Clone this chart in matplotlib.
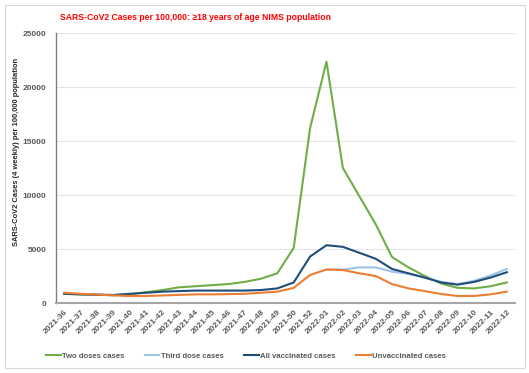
import numpy as np
import matplotlib
matplotlib.use("Agg")
import matplotlib.pyplot as plt
from matplotlib.patches import Rectangle

weeks = ["2021-36", "2021-37", "2021-38", "2021-39", "2021-40", "2021-41", "2021-42",
         "2021-43", "2021-44", "2021-45", "2021-46", "2021-47", "2021-48", "2021-49",
         "2021-50", "2021-52", "2022-01", "2022-02", "2022-03", "2022-04", "2022-05",
         "2022-06", "2022-07", "2022-08", "2022-09", "2022-10", "2022-11", "2022-12"]

two_doses = [850, 800, 760, 730, 800, 1000, 1200, 1450, 1550, 1650, 1750, 1950, 2250, 2750,
             5100, 16200, 22350, 12500, 9900, 7300, 4250, 3300, 2500, 1800, 1400, 1350, 1550, 1900]
third_dose = [np.nan] * 16 + [3100, 3100, 3300, 3300, 2900, 2700, 2350, 1950, 1750, 2050, 2550, 3150]
all_vacc = [850, 800, 770, 740, 850, 950, 1050, 1100, 1150, 1150, 1150, 1150, 1200, 1350,
            1900, 4300, 5350, 5200, 4650, 4100, 3150, 2750, 2350, 1900, 1700, 1950, 2350, 2850]
unvacc = [950, 850, 780, 700, 650, 650, 700, 750, 800, 800, 820, 850, 950, 1050,
          1400, 2600, 3100, 3050, 2750, 2500, 1750, 1350, 1100, 830, 650, 650, 800, 1050]

series_names = ["Two doses cases", "Third dose cases", "All vaccinated cases", "Unvaccinated cases"]
colors = ["#70AD47", "#9DC3E6", "#1F4E79", "#ED7D31"]

plt.rcParams['font.family'] = ['Liberation Sans', 'DejaVu Sans']

fig = plt.figure(figsize=(5.29, 3.73), dpi=100)
fig.patch.set_facecolor("white")
fig.patches.append(Rectangle((5/529, 5/373), 520/529, 363/373, transform=fig.transFigure,
                             fill=False, edgecolor="#D9D9D9", linewidth=0.8))

ax = fig.add_axes([56/529, 1 - 303/373, (515 - 56)/529, (303 - 33)/373])
x = np.arange(len(weeks))
for vals, name, c in zip([two_doses, third_dose, all_vacc, unvacc], series_names, colors):
    ax.plot(x, vals, color=c, linewidth=1.5, label=name)

ax.set_xlim(-0.5, len(weeks) - 0.5)
ax.set_ylim(0, 25000)
ax.set_yticks(np.arange(0, 25001, 5000))
ax.set_xticks(x)
ax.set_xticklabels(weeks, rotation=45, ha="right", rotation_mode="anchor",
                   fontsize=6, fontweight="bold", color="#595959")
for lab in ax.get_yticklabels():
    lab.set_fontsize(6)
    lab.set_fontweight("bold")
    lab.set_color("#595959")
ax.tick_params(axis="both", length=0, pad=4)
ax.tick_params(axis="y", pad=7)
ax.grid(axis="y", color="#E5E5E5", linewidth=0.8)
ax.set_axisbelow(True)
for s in ["top", "right"]:
    ax.spines[s].set_visible(False)
ax.spines["left"].set_color("#7F7F7F")
ax.spines["left"].set_linewidth(1.0)
ax.spines["bottom"].set_color("#A6A6A6")
ax.spines["bottom"].set_linewidth(1.5)

ax.set_ylabel("SARS-CoV2 Cases (4 weekly) per 100,000 population", fontsize=5.4,
              fontweight="bold", color="#262626")
ax.yaxis.set_label_coords(-0.078, 0.56)

fig.text(60/529, 1 - 18/373, "SARS-CoV2 Cases per 100,000: \u226518 years of age NIMS population",
         color="#FF0000", fontsize=6.2, fontweight="bold", va="center", ha="left")

leg = fig.legend(loc="center", bbox_to_anchor=(0.465, 1 - 356/373), ncol=4, frameon=False,
                 prop={"size": 5.6, "weight": "bold"}, handlelength=1.9, columnspacing=2.6,
                 handletextpad=0.2)
for t in leg.get_texts():
    t.set_color("#595959")

fig.savefig("out.png", dpi=100)
